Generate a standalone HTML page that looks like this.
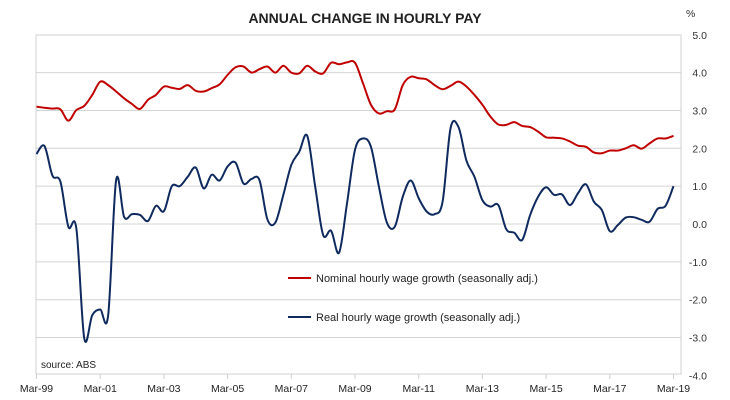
<!DOCTYPE html>
<html><head><meta charset="utf-8"><style>
body{margin:0;background:#fff;}
svg{display:block;font-family:"Liberation Sans",sans-serif;}
</style></head><body>
<svg id="chart" width="730" height="400">
<text x="365" y="23" text-anchor="middle" font-size="14" font-weight="bold" fill="#222">ANNUAL CHANGE IN HOURLY PAY</text>
<text x="686" y="17" font-size="10.5" fill="#333">%</text>
<g id="grid"></g>
<rect x="36" y="35" width="645" height="339" fill="none" stroke="#d0d0d0"/>
<g id="ticks"></g>
<g id="series"></g>
<line x1="288" y1="278" x2="311" y2="278" stroke="#c00000" stroke-width="2"/>
<text x="316" y="282" font-size="11" fill="#222">Nominal hourly wage growth (seasonally adj.)</text>
<line x1="288" y1="317" x2="311" y2="317" stroke="#0f2a5e" stroke-width="2"/>
<text x="316" y="321" font-size="11" fill="#222">Real hourly wage growth (seasonally adj.)</text>
<text x="41" y="368" font-size="10" fill="#222">source: ABS</text>
</svg>
<script>
const yTicks=[5,4,3,2,1,0,-1,-2,-3,-4];
const xLabels=["Mar-99","Mar-01","Mar-03","Mar-05","Mar-07","Mar-09","Mar-11","Mar-13","Mar-15","Mar-17","Mar-19"];
const nominal=[3.10,3.07,3.05,3.03,2.73,3.01,3.12,3.41,3.76,3.67,3.50,3.32,3.17,3.04,3.28,3.41,3.63,3.60,3.57,3.67,3.52,3.50,3.59,3.69,3.94,4.14,4.16,4.00,4.09,4.16,4.00,4.18,4.00,3.98,4.18,4.03,3.98,4.26,4.22,4.27,4.26,3.72,3.15,2.92,2.98,3.03,3.67,3.89,3.85,3.82,3.67,3.56,3.65,3.76,3.63,3.41,3.15,2.84,2.63,2.62,2.69,2.59,2.56,2.44,2.29,2.28,2.26,2.18,2.07,2.04,1.89,1.87,1.94,1.94,2.00,2.08,1.99,2.13,2.26,2.26,2.33];
const real=[1.85,2.06,1.28,1.12,-0.07,-0.11,-3.02,-2.41,-2.26,-2.41,1.16,0.19,0.26,0.24,0.08,0.48,0.34,1.00,1.00,1.25,1.49,0.94,1.30,1.15,1.52,1.62,1.07,1.19,1.16,0.12,0.04,0.77,1.56,1.91,2.33,0.99,-0.29,-0.18,-0.76,0.55,1.96,2.26,2.04,0.99,0.04,-0.07,0.72,1.15,0.68,0.33,0.26,0.59,2.53,2.56,1.67,1.25,0.63,0.46,0.50,-0.14,-0.23,-0.42,0.24,0.72,0.97,0.77,0.78,0.50,0.81,1.05,0.59,0.37,-0.19,-0.03,0.17,0.18,0.11,0.06,0.40,0.48,1.00];
const NS="http://www.w3.org/2000/svg";
const x0=36.5,x1=673.5,n=nominal.length;
function xq(i){return x0+(x1-x0)*i/(n-1);}
function y(v){return 224-37.85*v;}
function mk(t,a,p){const e=document.createElementNS(NS,t);for(const k in a)e.setAttribute(k,a[k]);p.appendChild(e);return e;}
const grid=document.getElementById('grid'),ticks=document.getElementById('ticks'),ser=document.getElementById('series');
yTicks.forEach(v=>{
  if(v>-4&&v<5){const l=mk('line',{x1:36,x2:681,y1:y(v),y2:y(v),stroke:'#d4d4d4'},grid);
  
  }
  const t=mk('text',{x:707,y:y(v)+4,'text-anchor':'end','font-size':10.5,fill:'#333'},ticks);
  t.textContent=(v<0?'-':'')+Math.abs(v).toFixed(1);
  
  
});
xLabels.forEach((s,k)=>{
  const xx=xq(k*8);
  const l=mk('line',{x1:xx,x2:xx,y1:374,y2:379,stroke:'#d0d0d0'},ticks);
  
  
  const t=mk('text',{x:xx,y:392,'text-anchor':'middle','font-size':10.5,fill:'#222'},ticks);
  t.textContent=s;
  
  
});
function path(vals){
  const p=vals.map((v,i)=>[xq(i),y(v)]);
  let d='M'+p[0][0]+','+p[0][1];
  for(let i=0;i<p.length-1;i++){
    const a=p[Math.max(0,i-1)],b=p[i],c=p[i+1],e=p[Math.min(p.length-1,i+2)];
    const c1=[b[0]+(c[0]-a[0])/6,b[1]+(c[1]-a[1])/6],c2=[c[0]-(e[0]-b[0])/6,c[1]-(e[1]-b[1])/6];
    d+=' C'+c1[0].toFixed(2)+','+c1[1].toFixed(2)+' '+c2[0].toFixed(2)+','+c2[1].toFixed(2)+' '+c[0].toFixed(2)+','+c[1].toFixed(2);
  }
  return d;
}
const pn=mk('path',{d:path(nominal),fill:'none',stroke:'#c00000','stroke-width':2},ser);


const pr=mk('path',{d:path(real),fill:'none',stroke:'#0f2a5e','stroke-width':2},ser);


</script>
</body></html>
